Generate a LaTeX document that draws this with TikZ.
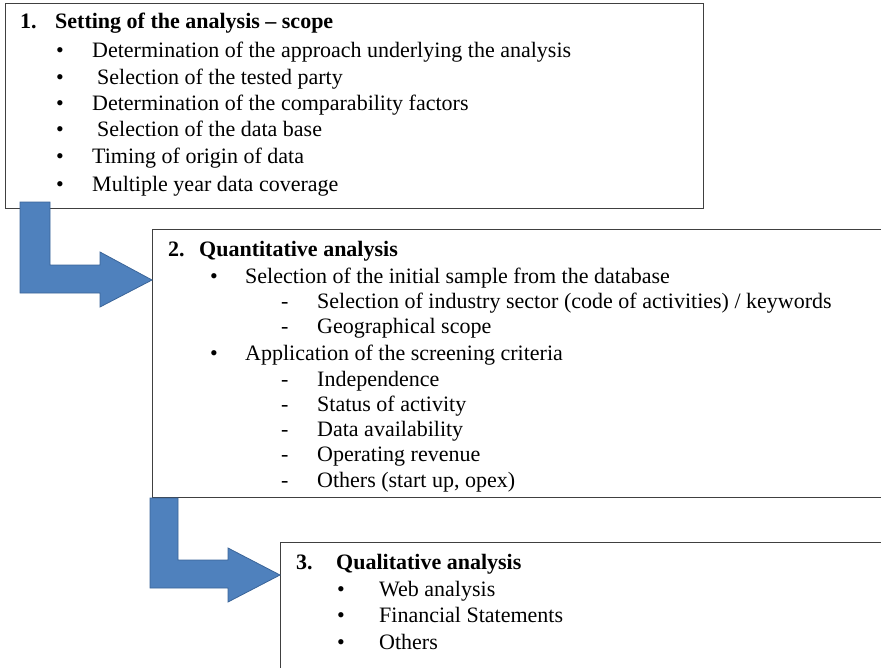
\documentclass[tikz,border=0pt]{standalone}
\usepackage{fontspec}
\setmainfont{Liberation Serif}
\begin{document}
\begin{tikzpicture}[x=1pt,y=-1pt,
  boxline/.style={draw=black!75,line width=1pt},
  bentarrow/.style={fill=arrowblue,draw=arrowedge,line width=0.8pt,line join=miter},
  txt/.style={anchor=base west,inner sep=0pt,font=\fontsize{22}{24}\selectfont},
  ttl/.style={txt,font=\fontsize{22}{24}\selectfont\bfseries}]
\definecolor{arrowblue}{HTML}{4F81BD}
\definecolor{arrowedge}{HTML}{3A6498}
\useasboundingbox (0,0) rectangle (881,667);
\clip (0,0) rectangle (881,667);
% boxes
\draw[boxline] (5,3) rectangle (703,208);
\draw[boxline] (152,229) rectangle (900,497);
\draw[boxline] (280,542) rectangle (900,700);
% box 1 text
\node[ttl] (n1) at (20,28) {1.};
\node[ttl] (t1) at (55,28) {Setting of the analysis -- scope};
\foreach \y/\dx/\t [count=\i] in {57/0/Determination of the approach underlying the analysis,
  84/5/Selection of the tested party,
  110/0/Determination of the comparability factors,
  136/5/Selection of the data base,
  163/0/Timing of origin of data,
  191/0/Multiple year data coverage}{
  \node[txt] (b1\i) at (56,\y) {\textbullet};
  \node[txt] (s1\i) at (92+\dx,\y) {\t};
}
% box 2 text
\node[ttl] (n2) at (168,256) {2.};
\node[ttl] (t2) at (199,256) {Quantitative analysis};
\node[txt] (b21) at (210,283) {\textbullet};
\node[txt] (s21) at (245,283) {Selection of the initial sample from the database};
\node[txt] (d21) at (281,308) {-};
\node[txt] (e21) at (317,308) {Selection of industry sector (code of activities) / keywords};
\node[txt] (d22) at (281,333) {-};
\node[txt] (e22) at (317,333) {Geographical scope};
\node[txt] (b22) at (210,360) {\textbullet};
\node[txt] (s22) at (245,360) {Application of the screening criteria};
\foreach \y/\t [count=\i] in {386/Independence,411/Status of activity,436/Data availability,461/Operating revenue,487/Others (start up{,} opex)}{
  \node[txt] (d3\i) at (281,\y) {-};
  \node[txt] (e3\i) at (317,\y) {\t};
}
% box 3 text
\node[ttl] (n3) at (296,569) {3.};
\node[ttl] (t3) at (336,569) {Qualitative analysis};
\foreach \y/\t [count=\i] in {596/Web analysis,622/Financial Statements,649/Others}{
  \node[txt] (b4\i) at (337,\y) {\textbullet};
  \node[txt] (s4\i) at (379,\y) {\t};
}
% bent arrows
\draw[bentarrow] (20,202) -- (50,202) -- (50,265) -- (100,265) -- (100,252) -- (152,280) -- (100,307) -- (100,293) -- (20,293) -- cycle;
\draw[bentarrow] (150,498) -- (178,498) -- (178,560) -- (228,560) -- (228,548) -- (280,575) -- (228,602) -- (228,588) -- (150,588) -- cycle;
\end{tikzpicture}
\end{document}
